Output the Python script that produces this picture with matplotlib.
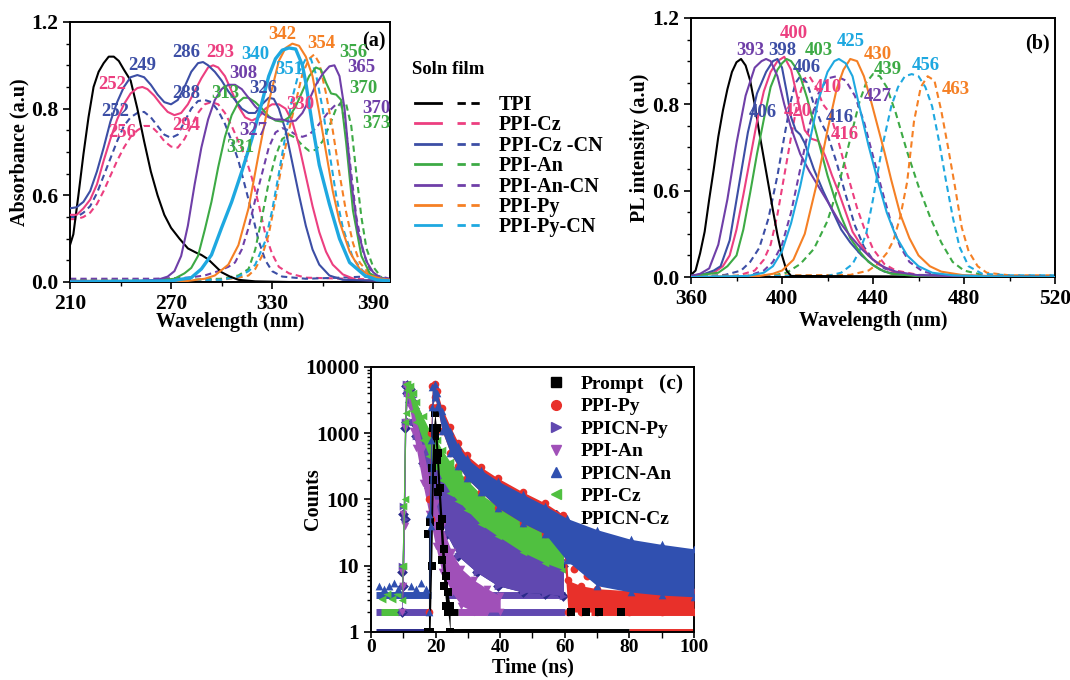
import matplotlib
matplotlib.use("Agg")
import matplotlib.pyplot as plt
from matplotlib.lines import Line2D
from matplotlib.legend_handler import HandlerTuple
from matplotlib.ticker import AutoMinorLocator, FixedLocator, FixedFormatter, LogLocator, NullFormatter

plt.rcParams['font.family'] = ['Liberation Serif', 'DejaVu Serif']
plt.rcParams['font.weight'] = 'bold'
plt.rcParams['axes.labelweight'] = 'bold'
plt.rcParams['axes.linewidth'] = 1.4

# ---------------- (a) absorbance, solution (solid) and film (dashed) ----------------
abs_tpi_x = [210, 212, 215, 218, 221, 224, 227, 230, 233, 236, 239, 242, 246, 250, 254, 258, 262, 266, 270,
             275, 280, 285, 288, 292, 296, 300, 305, 310, 320, 340, 400]
abs_tpi_y = [0.17, 0.22, 0.40, 0.59, 0.76, 0.90, 0.97, 1.01, 1.04, 1.04, 1.02, 0.98, 0.93, 0.80, 0.65, 0.51, 0.40,
             0.31, 0.25, 0.20, 0.155, 0.135, 0.125, 0.105, 0.075, 0.045, 0.025, 0.01, 0.003, 0.0, 0.0]

abs_cz_x = [210, 214, 218, 222, 226, 230, 234, 238, 242, 246, 250, 253, 256, 260, 264, 268, 272, 276, 280, 284, 288,
            292, 295, 298, 302, 306, 310, 314, 318, 322, 326, 330, 334, 338, 342, 346, 350, 354, 358, 362, 366, 372,
            380, 400]
abs_cz_y = [0.31, 0.31, 0.34, 0.38, 0.45, 0.56, 0.66, 0.75, 0.82, 0.87, 0.895, 0.90, 0.89, 0.86, 0.82, 0.785, 0.77,
            0.78, 0.82, 0.88, 0.94, 0.99, 1.0, 0.99, 0.95, 0.88, 0.81, 0.76, 0.745, 0.76, 0.80, 0.82, 0.82, 0.80, 0.74,
            0.63, 0.49, 0.35, 0.23, 0.14, 0.08, 0.035, 0.01, 0.005]
abs_cz_film_x = [210, 214, 218, 222, 226, 230, 234, 238, 242, 246, 250, 254, 258, 262, 266, 270, 274, 278, 282, 286,
                 290, 294, 298, 302, 306, 310, 314, 318, 322, 326, 330, 334, 340, 350, 400]
abs_cz_film_y = [0.29, 0.29, 0.30, 0.32, 0.36, 0.42, 0.49, 0.56, 0.62, 0.67, 0.70, 0.72, 0.72, 0.69, 0.65, 0.625,
                 0.62, 0.66, 0.72, 0.78, 0.82, 0.83, 0.82, 0.78, 0.72, 0.65, 0.58, 0.48, 0.36, 0.22, 0.13, 0.07, 0.04,
                 0.02, 0.01]

abs_czcn_x = [210, 214, 218, 222, 226, 230, 234, 238, 242, 246, 250, 254, 258, 262, 266, 270, 274, 278, 282, 286,
              289, 292, 296, 300, 304, 308, 312, 316, 320, 324, 328, 331, 334, 338, 342, 346, 350, 354, 358, 364, 372,
              400]
abs_czcn_y = [0.34, 0.345, 0.37, 0.42, 0.51, 0.62, 0.74, 0.83, 0.90, 0.945, 0.955, 0.945, 0.91, 0.865, 0.83, 0.82,
              0.84, 0.90, 0.97, 1.01, 1.015, 1.0, 0.97, 0.93, 0.88, 0.84, 0.80, 0.78, 0.78, 0.82, 0.85, 0.845, 0.80,
              0.70, 0.55, 0.40, 0.26, 0.15, 0.08, 0.03, 0.01, 0.005]
abs_czcn_film_x = [210, 214, 218, 222, 226, 230, 234, 238, 242, 246, 250, 254, 258, 262, 266, 270, 274, 278, 282,
                   286, 290, 294, 298, 302, 306, 310, 314, 318, 322, 326, 330, 336, 350, 370, 385, 395, 400]
abs_czcn_film_y = [0.30, 0.30, 0.32, 0.35, 0.41, 0.49, 0.57, 0.65, 0.72, 0.76, 0.78, 0.785, 0.76, 0.72, 0.68, 0.665,
                   0.68, 0.74, 0.80, 0.835, 0.84, 0.83, 0.79, 0.73, 0.65, 0.56, 0.44, 0.32, 0.19, 0.10, 0.05, 0.025,
                   0.015, 0.02, 0.025, 0.015, 0.01]

abs_an_x = [210, 260, 272, 278, 282, 286, 290, 294, 298, 302, 306, 310, 313, 316, 320, 324, 328, 332, 336, 340, 344,
            348, 352, 356, 359, 362, 365, 368, 371, 374, 378, 383, 388, 394, 400]
abs_an_y = [0.005, 0.005, 0.015, 0.04, 0.065, 0.12, 0.24, 0.37, 0.53, 0.67, 0.77, 0.83, 0.85, 0.85, 0.83, 0.80,
            0.765, 0.745, 0.74, 0.76, 0.81, 0.88, 0.95, 0.99, 0.98, 0.92, 0.87, 0.865, 0.84, 0.64, 0.33, 0.12, 0.04,
            0.015, 0.005]
abs_an_film_x = [210, 280, 300, 310, 316, 320, 324, 328, 332, 336, 340, 344, 348, 352, 356, 360, 364, 368, 371, 374,
                 377, 380, 383, 386, 390, 395, 400]
abs_an_film_y = [0.01, 0.01, 0.015, 0.03, 0.06, 0.15, 0.30, 0.46, 0.58, 0.66, 0.68, 0.665, 0.63, 0.605, 0.61, 0.65,
                 0.72, 0.80, 0.83, 0.82, 0.72, 0.50, 0.30, 0.155, 0.07, 0.02, 0.01]

abs_ancn_x = [210, 250, 262, 268, 272, 276, 280, 284, 288, 292, 296, 300, 304, 308, 312, 316, 320, 324, 328, 332,
              336, 340, 344, 348, 352, 356, 360, 364, 367, 370, 373, 377, 381, 386, 390, 394, 400]
abs_ancn_y = [0.005, 0.005, 0.01, 0.025, 0.05, 0.12, 0.26, 0.45, 0.62, 0.75, 0.84, 0.89, 0.91, 0.91, 0.89, 0.85,
              0.81, 0.78, 0.76, 0.75, 0.75, 0.74, 0.745, 0.78, 0.84, 0.91, 0.96, 0.995, 1.0, 0.95, 0.80, 0.46, 0.23,
              0.095, 0.045, 0.02, 0.01]
abs_ancn_film_x = [210, 260, 280, 290, 298, 304, 308, 312, 316, 320, 324, 328, 332, 336, 340, 344, 348, 352, 356, 360,
                   364, 368, 371, 374, 377, 380, 384, 388, 392, 400]
abs_ancn_film_y = [0.015, 0.015, 0.02, 0.03, 0.05, 0.07, 0.09, 0.15, 0.25, 0.38, 0.50, 0.62, 0.69, 0.71, 0.70, 0.68,
                   0.67, 0.68, 0.71, 0.75, 0.79, 0.82, 0.82, 0.70, 0.50, 0.30, 0.14, 0.06, 0.03, 0.015]

abs_py_x = [210, 280, 290, 296, 304, 310, 316, 322, 328, 334, 338, 342, 346, 350, 354, 358, 362, 366, 370, 376, 382,
            388, 395, 400]
abs_py_y = [0.0, 0.005, 0.015, 0.03, 0.08, 0.17, 0.34, 0.59, 0.83, 1.02, 1.08, 1.10, 1.09, 1.04, 0.95, 0.78, 0.60,
            0.42, 0.28, 0.14, 0.06, 0.03, 0.015, 0.01]
abs_py_film_x = [210, 300, 310, 316, 320, 324, 328, 332, 336, 340, 344, 348, 352, 355, 358, 362, 366, 370, 374, 378,
                 382, 388, 395, 400]
abs_py_film_y = [0.005, 0.01, 0.02, 0.03, 0.06, 0.12, 0.22, 0.38, 0.55, 0.70, 0.83, 0.96, 1.03, 1.05, 1.01, 0.87,
                 0.70, 0.50, 0.32, 0.18, 0.09, 0.035, 0.015, 0.01]

abs_pycn_x = [210, 270, 282, 288, 294, 300, 306, 312, 318, 324, 328, 332, 336, 340, 344, 348, 350, 354, 358, 364,
              370, 376, 385, 392, 400]
abs_pycn_y = [0.0, 0.005, 0.02, 0.06, 0.125, 0.25, 0.37, 0.51, 0.66, 0.83, 0.95, 1.03, 1.07, 1.08, 1.075, 1.0, 0.92,
              0.72, 0.54, 0.36, 0.20, 0.09, 0.03, 0.01, 0.005]
abs_pycn_film_x = [210, 300, 310, 316, 320, 326, 330, 334, 338, 342, 346, 350, 353, 356, 360, 364, 368, 372, 378,
                   384, 390, 400]
abs_pycn_film_y = [0.005, 0.01, 0.025, 0.05, 0.08, 0.19, 0.33, 0.50, 0.68, 0.85, 0.97, 1.03, 1.03, 0.96, 0.80, 0.60,
                   0.40, 0.25, 0.11, 0.05, 0.025, 0.01]

abs_peak_text = ['252', '249', '252', '256', '286', '293', '340', '342', '354', '356', '308', '351', '365', '288',
                 '313', '326', '370', '330', '370', '294', '327', '373', '331']
abs_peak_key = ['Cz', 'CzCN', 'CzCN', 'Cz', 'CzCN', 'Cz', 'PyCN', 'Py', 'Py', 'An', 'AnCN', 'PyCN', 'AnCN', 'CzCN',
                'An', 'CzCN', 'An', 'Cz', 'AnCN', 'Cz', 'AnCN', 'An', 'An']
abs_peak_tx = [235, 253, 237, 241, 279, 299, 320, 336, 359, 378, 313, 340, 383, 279, 302, 325, 384, 347, 392, 279,
               319, 392, 311]
abs_peak_ty = [0.91, 1.0, 0.785, 0.69, 1.057, 1.057, 1.048, 1.14, 1.10, 1.06, 0.96, 0.98, 0.99, 0.87, 0.87, 0.895,
               0.895, 0.817, 0.80, 0.72, 0.70, 0.73, 0.62]

# ---------------- (b) photoluminescence ----------------
pl_tpi_x = [360, 362, 364, 366, 368, 370, 372, 374, 376, 378, 380, 382, 384, 386, 388, 390, 392, 394, 396, 398, 400,
            402, 404, 520]
pl_tpi_y = [0.01, 0.03, 0.11, 0.21, 0.36, 0.50, 0.65, 0.77, 0.87, 0.95, 0.995, 1.01, 0.98, 0.91, 0.80, 0.67, 0.55,
            0.43, 0.31, 0.195, 0.10, 0.03, 0.005, 0.0]

pl_cz_x = [360, 370, 374, 377, 380, 383, 386, 389, 392, 395, 398, 401, 404, 407, 410, 413, 416, 419, 422, 425, 428,
           431, 434, 438, 443, 450, 460, 520]
pl_cz_y = [0.005, 0.02, 0.05, 0.10, 0.22, 0.38, 0.55, 0.72, 0.86, 0.95, 1.0, 1.02, 0.96, 0.82, 0.68, 0.64, 0.63,
           0.56, 0.47, 0.39, 0.30, 0.21, 0.16, 0.10, 0.055, 0.02, 0.005, 0.0]
pl_cz_film_x = [360, 380, 388, 392, 395, 398, 401, 404, 407, 410, 412, 415, 418, 421, 424, 427, 430, 433, 436, 440,
                445, 450, 460, 520]
pl_cz_film_y = [0.0, 0.005, 0.03, 0.08, 0.15, 0.29, 0.47, 0.65, 0.82, 0.92, 0.93, 0.88, 0.80, 0.76, 0.66, 0.54, 0.43,
                0.32, 0.23, 0.13, 0.06, 0.03, 0.01, 0.0]

pl_czcn_x = [360, 366, 370, 373, 377, 381, 385, 389, 393, 396, 398, 400, 402, 404, 406, 408, 410, 414, 418, 422, 426,
             430, 435, 440, 445, 452, 520]
pl_czcn_y = [0.005, 0.015, 0.03, 0.05, 0.17, 0.42, 0.67, 0.85, 0.95, 1.0, 1.01, 0.97, 0.86, 0.74, 0.68, 0.66, 0.62,
             0.50, 0.40, 0.31, 0.22, 0.16, 0.10, 0.055, 0.025, 0.01, 0.0]
pl_czcn_film_x = [360, 375, 382, 386, 390, 394, 398, 401, 404, 406, 408, 411, 414, 417, 420, 424, 428, 432, 436, 440,
                  445, 452, 465, 520]
pl_czcn_film_y = [0.0, 0.01, 0.03, 0.07, 0.135, 0.27, 0.47, 0.65, 0.82, 0.90, 0.93, 0.90, 0.80, 0.72, 0.66, 0.53,
                  0.38, 0.24, 0.14, 0.08, 0.04, 0.015, 0.003, 0.0]

pl_an_x = [360, 372, 376, 380, 383, 386, 389, 392, 395, 398, 400, 402, 404, 406, 408, 411, 414, 417, 420, 423, 426,
           430, 434, 438, 443, 448, 460, 520]
pl_an_y = [0.005, 0.02, 0.05, 0.10, 0.22, 0.39, 0.57, 0.73, 0.88, 0.96, 0.99, 1.01, 1.0, 0.97, 0.93, 0.83, 0.71,
           0.59, 0.47, 0.37, 0.28, 0.18, 0.12, 0.07, 0.035, 0.015, 0.004, 0.0]
pl_an_film_x = [360, 395, 402, 408, 414, 420, 425, 430, 434, 437, 440, 443, 446, 450, 455, 460, 465, 470, 475, 480,
                490, 520]
pl_an_film_y = [0.0, 0.005, 0.02, 0.06, 0.13, 0.26, 0.43, 0.64, 0.81, 0.90, 0.94, 0.93, 0.88, 0.76, 0.58, 0.42,
                0.28, 0.16, 0.07, 0.03, 0.005, 0.0]

pl_ancn_x = [360, 364, 368, 372, 376, 380, 384, 388, 391, 393, 395, 398, 401, 404, 408, 412, 416, 420, 425, 430, 435,
             440, 445, 450, 460, 480, 520]
pl_ancn_y = [0.005, 0.015, 0.04, 0.15, 0.36, 0.62, 0.84, 0.97, 1.0, 1.01, 1.0, 0.93, 0.80, 0.69, 0.57, 0.49, 0.42,
             0.35, 0.26, 0.19, 0.13, 0.08, 0.045, 0.025, 0.008, 0.003, 0.0]
pl_ancn_film_x = [360, 385, 392, 396, 400, 404, 408, 412, 416, 420, 424, 428, 432, 436, 440, 444, 448, 452, 456, 462,
                  470, 520]
pl_ancn_film_y = [0.0, 0.005, 0.03, 0.07, 0.15, 0.30, 0.50, 0.70, 0.85, 0.92, 0.93, 0.91, 0.84, 0.72, 0.56, 0.40,
                  0.25, 0.14, 0.07, 0.025, 0.008, 0.0]

pl_py_x = [360, 390, 396, 400, 405, 410, 415, 420, 424, 427, 430, 433, 436, 439, 442, 445, 448, 452, 456, 460, 465,
           470, 480, 495, 520]
pl_py_y = [0.0, 0.005, 0.015, 0.03, 0.08, 0.20, 0.42, 0.68, 0.87, 0.96, 1.01, 1.0, 0.93, 0.82, 0.70, 0.58, 0.45,
           0.29, 0.18, 0.10, 0.05, 0.025, 0.008, 0.003, 0.0]
pl_py_film_x = [360, 430, 438, 442, 446, 449, 452, 455, 458, 461, 464, 467, 470, 473, 476, 479, 482, 486, 490, 500,
                520]
pl_py_film_y = [0.005, 0.01, 0.03, 0.06, 0.11, 0.17, 0.28, 0.44, 0.72, 0.88, 0.93, 0.91, 0.77, 0.60, 0.42, 0.23,
                0.12, 0.05, 0.02, 0.008, 0.008]

pl_pycn_x = [360, 385, 392, 396, 400, 404, 408, 412, 416, 420, 423, 425, 428, 431, 434, 438, 442, 446, 450, 455, 460,
             466, 475, 490, 520]
pl_pycn_y = [0.0, 0.005, 0.02, 0.05, 0.12, 0.25, 0.42, 0.62, 0.82, 0.95, 1.0, 1.01, 0.99, 0.93, 0.79, 0.61, 0.45,
             0.30, 0.19, 0.10, 0.05, 0.02, 0.008, 0.003, 0.0]
pl_pycn_film_x = [360, 420, 426, 431, 434, 437, 440, 444, 448, 451, 454, 457, 460, 463, 466, 469, 472, 475, 478, 482,
                  488, 500, 520]
pl_pycn_film_y = [0.005, 0.005, 0.02, 0.06, 0.12, 0.20, 0.36, 0.60, 0.79, 0.88, 0.93, 0.94, 0.93, 0.88, 0.79, 0.63,
                  0.45, 0.28, 0.14, 0.05, 0.015, 0.008, 0.008]

pl_peak_text = ['400', '393', '398', '403', '425', '430', '406', '439', '456', '410', '463', '427', '406', '420',
                '416', '416']
pl_peak_key = ['Cz', 'AnCN', 'CzCN', 'An', 'PyCN', 'Py', 'CzCN', 'An', 'PyCN', 'Cz', 'Py', 'AnCN', 'CzCN', 'Cz',
               'CzCN', 'Cz']
pl_peak_tx = [405.3, 386, 400, 416, 430, 442, 411, 446.6, 463, 420, 476.5, 442, 391.6, 407, 425.5, 427.7]
pl_peak_ty = [1.13, 1.05, 1.05, 1.05, 1.09, 1.03, 0.97, 0.96, 0.98, 0.88, 0.87, 0.835, 0.76, 0.765, 0.74, 0.66]

# ---------------- (c) decay: lower / upper edge of each noisy trace ----------------
prompt_t = [17.8, 18.3, 18.8, 19.3, 19.8, 20.3, 20.8, 21.4, 22.0, 22.6, 23.2, 23.8, 24.5]
prompt_hi = [30, 45, 300, 1200, 2000, 1200, 500, 150, 50, 18, 7, 4, 2.5]
prompt_lo = [1, 1, 10, 200, 900, 400, 130, 40, 12, 5, 2.5, 2, 1]

py_t = [18.0, 18.5, 19.0, 19.8, 20.5, 22, 24.6, 27, 29.6, 34, 39.3, 47, 54, 59.6, 61, 65, 70, 80, 90, 100]
py_hi = [100, 1000, 5200, 5600, 4300, 2400, 1250, 720, 470, 310, 210, 130, 88, 58, 6, 5, 4.5, 4.2, 4, 4]
py_lo = [2, 50, 2500, 3500, 2500, 1100, 500, 320, 210, 130, 75, 44, 30, 20, 2, 2, 2, 2, 2, 2]

pycn_t = [9.6, 10.0, 10.4, 10.8, 11.3, 12.0, 13, 14, 16, 18, 20.3, 23.4, 27, 32.7, 39.3, 47, 54, 59.6]
pycn_hi = [10, 80, 1500, 5500, 5600, 5000, 3500, 2400, 1200, 600, 350, 225, 130, 70, 35, 22, 16, 12]
pycn_lo = [2, 5, 50, 1500, 4000, 3000, 1500, 900, 350, 150, 70, 30, 14, 8, 5, 4, 3.8, 3.5]

an_t = [9.6, 10.0, 10.4, 10.8, 11.3, 12.0, 13, 14, 16, 18, 20, 22, 25, 28, 32, 36, 40]
an_hi = [8, 60, 1200, 5000, 5400, 4500, 2800, 1700, 600, 220, 90, 40, 16, 9, 6, 4.5, 3.5]
an_lo = [2, 5, 40, 1500, 3500, 2500, 1100, 600, 180, 60, 20, 8, 4, 2.5, 2, 2, 2]

ancn_t = [18.0, 18.5, 19.0, 19.8, 20.5, 22, 24.6, 27, 29.6, 34, 39.3, 47, 54, 60.6, 70, 80.5, 90, 100]
ancn_hi = [60, 800, 5000, 5500, 4000, 2200, 1100, 650, 420, 280, 190, 120, 80, 52, 35, 25, 21, 18]
ancn_lo = [2, 40, 2500, 3500, 2500, 1100, 500, 320, 210, 130, 75, 44, 30, 12, 5, 4, 3.6, 3.4]

cz_t = [9.6, 10.0, 10.4, 10.8, 11.3, 12.0, 13, 14, 16, 18, 20.3, 22, 24.6, 27, 29.6, 34, 39.3, 47, 54, 59.6]
cz_hi = [10, 80, 1500, 5500, 5600, 5200, 4000, 3000, 1800, 1150, 800, 560, 365, 270, 200, 120, 80, 45, 33, 26]
cz_lo = [3, 10, 100, 2000, 4500, 3500, 2200, 1500, 800, 450, 300, 200, 127, 95, 70, 42, 28, 16, 11, 8.7]

czcn_t = [9.6, 10.0, 10.4, 10.8, 11.3, 12.0, 13, 14, 16, 18, 20.3, 23.4, 27, 32.7, 39.3, 47, 54, 59.6]
czcn_hi = [8, 60, 1200, 5200, 5400, 4600, 3000, 2000, 900, 450, 250, 150, 90, 50, 28, 18, 13, 10]
czcn_lo = [2, 5, 50, 1500, 4000, 3000, 1500, 900, 350, 150, 70, 30, 14, 8, 5, 4, 3.8, 3.5]

# digitisation floor: rows of points at low counts (level, start, end, trace)
floor_level = [1, 1, 1, 1, 2, 2, 2, 2, 2, 2, 3.6, 3.6, 3.6]
floor_start = [1.5, 24, 28, 80, 1.5, 3, 24, 27, 36, 68, 1.5, 24, 61]
floor_end = [18.5, 80, 58, 100, 18.5, 9, 27, 36, 60, 100, 18.5, 60, 100]
floor_trace = ['PPICN-Cz', 'Prompt', 'PPICN-Py', 'PPI-Py', 'PPICN-Py', 'PPI-Cz', 'Prompt', 'PPI-An', 'PPICN-Py',
               'PPI-Py', 'PPICN-An', 'PPICN-Py', 'PPI-Py']

# sparse isolated points
stray_t = [2.5, 4, 5.5, 7, 8.5, 12.5, 14, 15.5, 17, 3.5, 5, 6.5, 8, 62, 66.5, 70.5, 77.5, 61.5, 63, 65, 67, 72, 78,
           85, 92, 63, 70, 86, 96]
stray_c = [5, 4.5, 5, 5.5, 4.5, 5, 4.5, 5.5, 4.5, 3.2, 3.8, 3.2, 3.8, 2, 2, 2, 2, 14, 9, 12, 7, 8, 6, 9, 7, 12, 8,
           5, 5]
stray_trace = ['PPICN-An'] * 9 + ['PPI-Cz'] * 4 + ['Prompt'] * 4 + ['PPI-Py'] * 8 + ['PPICN-An'] * 4

# ---------------- styles ----------------
col = {'TPI': '#000000', 'Cz': '#ec3f80', 'CzCN': '#3c4ea5', 'An': '#3daa45', 'AnCN': '#6f3fa8',
       'Py': '#f58025', 'PyCN': '#1ea8e0'}
names = {'TPI': 'TPI', 'Cz': 'PPI-Cz', 'CzCN': 'PPI-Cz -CN', 'An': 'PPI-An', 'AnCN': 'PPI-An-CN',
         'Py': 'PPI-Py', 'PyCN': 'PPI-Py-CN'}
trace_style = {'Prompt': ('#000000', 's'), 'PPI-Py': ('#e8302a', 'o'), 'PPICN-Py': ('#6048b0', '>'),
               'PPI-An': ('#a050b8', 'v'), 'PPICN-An': ('#3050b0', '^'), 'PPI-Cz': ('#50c040', '<'),
               'PPICN-Cz': ('#2a2a8a', 'D')}
dash = (0, (3, 2))
lab_fs = 14.5
tick_fs = 15.5
peak_fs = 13.5

fig = plt.figure(figsize=(10.7, 6.8), dpi=100)
ax_a = fig.add_axes([0.0654, 0.5853, 0.2991, 0.3824])
ax_b = fig.add_axes([0.6458, 0.5926, 0.3402, 0.3810])
ax_c = fig.add_axes([0.3467, 0.0706, 0.3019, 0.3897])

# panel (a)
abs_sets = [('TPI', abs_tpi_x, abs_tpi_y, None, None),
            ('Cz', abs_cz_x, abs_cz_y, abs_cz_film_x, abs_cz_film_y),
            ('CzCN', abs_czcn_x, abs_czcn_y, abs_czcn_film_x, abs_czcn_film_y),
            ('An', abs_an_x, abs_an_y, abs_an_film_x, abs_an_film_y),
            ('AnCN', abs_ancn_x, abs_ancn_y, abs_ancn_film_x, abs_ancn_film_y),
            ('Py', abs_py_x, abs_py_y, abs_py_film_x, abs_py_film_y),
            ('PyCN', abs_pycn_x, abs_pycn_y, abs_pycn_film_x, abs_pycn_film_y)]
handles = []
for key, sx, sy, fx, fy in abs_sets:
    lw = 2.4 if key == 'PyCN' else 1.5
    ax_a.plot(sx, sy, color=col[key], lw=lw, zorder=3)
    if fx is not None:
        ax_a.plot(fx, fy, color=col[key], lw=1.5, ls=dash, zorder=2)
    h1 = Line2D([], [], color=col[key], lw=2)
    h2 = Line2D([], [], color=col[key], lw=2, ls=dash)
    handles.append((h1, h2))
for t, k, x, y in zip(abs_peak_text, abs_peak_key, abs_peak_tx, abs_peak_ty):
    ax_a.text(x, y, t, color=col[k], fontsize=peak_fs, ha='center', va='center', clip_on=False, zorder=5)
ax_a.set_xlim(210, 400)
ax_a.set_ylim(0, 1.2)
ax_a.xaxis.set_major_locator(FixedLocator([210, 270, 330, 390]))
ax_a.xaxis.set_minor_locator(FixedLocator([240, 300, 360]))
ax_a.set_xlabel('Wavelength (nm)', fontsize=lab_fs)
ax_a.set_ylabel('Absorbance (a.u)', fontsize=lab_fs)
ax_a.xaxis.set_label_coords(0.5, -0.115)
ax_a.yaxis.set_label_coords(-0.125, 0.5)
ax_a.text(0.985, 0.965, '(a)', transform=ax_a.transAxes, ha='right', va='top', fontsize=14.5)

fig.text(412 / 1070, 1 - 70 / 680, 'Soln film', fontsize=13.5, ha='left', va='center')
fig.legend(handles, [names[k] for k, *_ in abs_sets], handler_map={tuple: HandlerTuple(ndivide=None, pad=0.8)},
           loc='upper left', bbox_to_anchor=(0.378, 1 - 85 / 680), frameon=False, fontsize=14.5,
           handlelength=3.4, handletextpad=0.8, labelspacing=0.02, borderpad=0.0)

# panel (b)
pl_sets = [('TPI', pl_tpi_x, pl_tpi_y, None, None),
           ('Cz', pl_cz_x, pl_cz_y, pl_cz_film_x, pl_cz_film_y),
           ('CzCN', pl_czcn_x, pl_czcn_y, pl_czcn_film_x, pl_czcn_film_y),
           ('An', pl_an_x, pl_an_y, pl_an_film_x, pl_an_film_y),
           ('AnCN', pl_ancn_x, pl_ancn_y, pl_ancn_film_x, pl_ancn_film_y),
           ('Py', pl_py_x, pl_py_y, pl_py_film_x, pl_py_film_y),
           ('PyCN', pl_pycn_x, pl_pycn_y, pl_pycn_film_x, pl_pycn_film_y)]
for key, sx, sy, fx, fy in pl_sets:
    ax_b.plot(sx, sy, color=col[key], lw=1.5, zorder=3)
    if fx is not None:
        ax_b.plot(fx, fy, color=col[key], lw=1.5, ls=dash, zorder=2)
for t, k, x, y in zip(pl_peak_text, pl_peak_key, pl_peak_tx, pl_peak_ty):
    ax_b.text(x, y, t, color=col[k], fontsize=peak_fs, ha='center', va='center', zorder=5)
ax_b.set_xlim(360, 520)
ax_b.set_ylim(0, 1.2)
ax_b.xaxis.set_major_locator(FixedLocator([360, 400, 440, 480, 520]))
ax_b.xaxis.set_minor_locator(AutoMinorLocator(2))
ax_b.set_xlabel('Wavelength (nm)', fontsize=lab_fs)
ax_b.set_ylabel('PL intensity (a.u)', fontsize=lab_fs)
ax_b.xaxis.set_label_coords(0.5, -0.13)
ax_b.yaxis.set_label_coords(-0.113, 0.5)
ax_b.text(0.985, 0.94, '(b)', transform=ax_b.transAxes, ha='right', va='top', fontsize=14.5)

for ax in (ax_a, ax_b):
    ax.yaxis.set_major_locator(FixedLocator([0, 0.4, 0.8, 1.2]))
    ax.yaxis.set_major_formatter(FixedFormatter(['0.0', '0.6', '0.8', '1.2']))
    ax.yaxis.set_minor_locator(AutoMinorLocator(4))

# panel (c)
ax_c.set_yscale('log')
traces = [('PPICN-Cz', czcn_t, czcn_lo, czcn_hi), ('PPICN-Py', pycn_t, pycn_lo, pycn_hi),
          ('PPI-An', an_t, an_lo, an_hi), ('PPI-Cz', cz_t, cz_lo, cz_hi), ('PPI-Py', py_t, py_lo, py_hi),
          ('Prompt', prompt_t, prompt_lo, prompt_hi), ('PPICN-An', ancn_t, ancn_lo, ancn_hi)]
order = {name: i for i, (name, *_) in enumerate(traces)}
for lev, t0, t1, tr in zip(floor_level, floor_start, floor_end, floor_trace):
    ax_c.hlines(lev, t0, t1, color=trace_style[tr][0], lw=5, zorder=1 + order[tr] * 0.1)
for i, (name, t, lo, hi) in enumerate(traces):
    c, m = trace_style[name]
    z = 2 + i
    ax_c.fill_between(t, lo, hi, color=c, lw=0, zorder=z)
    ax_c.scatter(t, hi, marker=m, s=30, color=c, lw=0, zorder=z)
    ax_c.scatter(t, lo, marker=m, s=30, color=c, lw=0, zorder=z)
for t, cnt, tr in zip(stray_t, stray_c, stray_trace):
    c, m = trace_style[tr]
    ax_c.scatter([t], [cnt], marker=m, s=32, color=c, lw=0, zorder=2 + order[tr])

ax_c.set_xlim(0, 100)
ax_c.set_ylim(1, 10000)
ax_c.xaxis.set_major_locator(FixedLocator([0, 20, 40, 60, 80, 100]))
ax_c.xaxis.set_minor_locator(AutoMinorLocator(2))
ax_c.yaxis.set_major_locator(FixedLocator([1, 10, 100, 1000, 10000]))
ax_c.yaxis.set_major_formatter(FixedFormatter(['1', '10', '100', '1000', '10000']))
ax_c.yaxis.set_minor_locator(LogLocator(base=10, subs=range(2, 10)))
ax_c.yaxis.set_minor_formatter(NullFormatter())
ax_c.set_xlabel('Time (ns)', fontsize=lab_fs)
ax_c.set_ylabel('Counts', fontsize=lab_fs)
ax_c.xaxis.set_label_coords(0.5, -0.097)
ax_c.yaxis.set_label_coords(-0.15, 0.5)

leg_names = ['Prompt', 'PPI-Py', 'PPICN-Py', 'PPI-An', 'PPICN-An', 'PPI-Cz', 'PPICN-Cz']
leg_h = [Line2D([], [], ls='none', marker=trace_style[n][1], color=trace_style[n][0], markersize=7)
         for n in leg_names]
ax_c.legend(leg_h, leg_names, loc='upper left', bbox_to_anchor=(0.50, 1.02), frameon=False, fontsize=14,
            handlelength=1.0, handletextpad=0.8, labelspacing=0.25, borderpad=0.2)
ax_c.text(0.93, 0.935, '(c)', transform=ax_c.transAxes, ha='center', va='center', fontsize=15.5)

for ax in (ax_a, ax_b, ax_c):
    ax.tick_params(which='major', direction='out', length=5, width=1.2, labelsize=tick_fs, top=False, right=False)
    ax.tick_params(which='minor', direction='out', length=3, width=1.0, top=False, right=False)
    for lbl in ax.get_xticklabels() + ax.get_yticklabels():
        lbl.set_fontweight('bold')
ax_c.tick_params(axis='x', which='major', pad=1, labelsize=14)
ax_c.tick_params(axis='x', which='both', length=4)

fig.savefig('out.png', dpi=100)
